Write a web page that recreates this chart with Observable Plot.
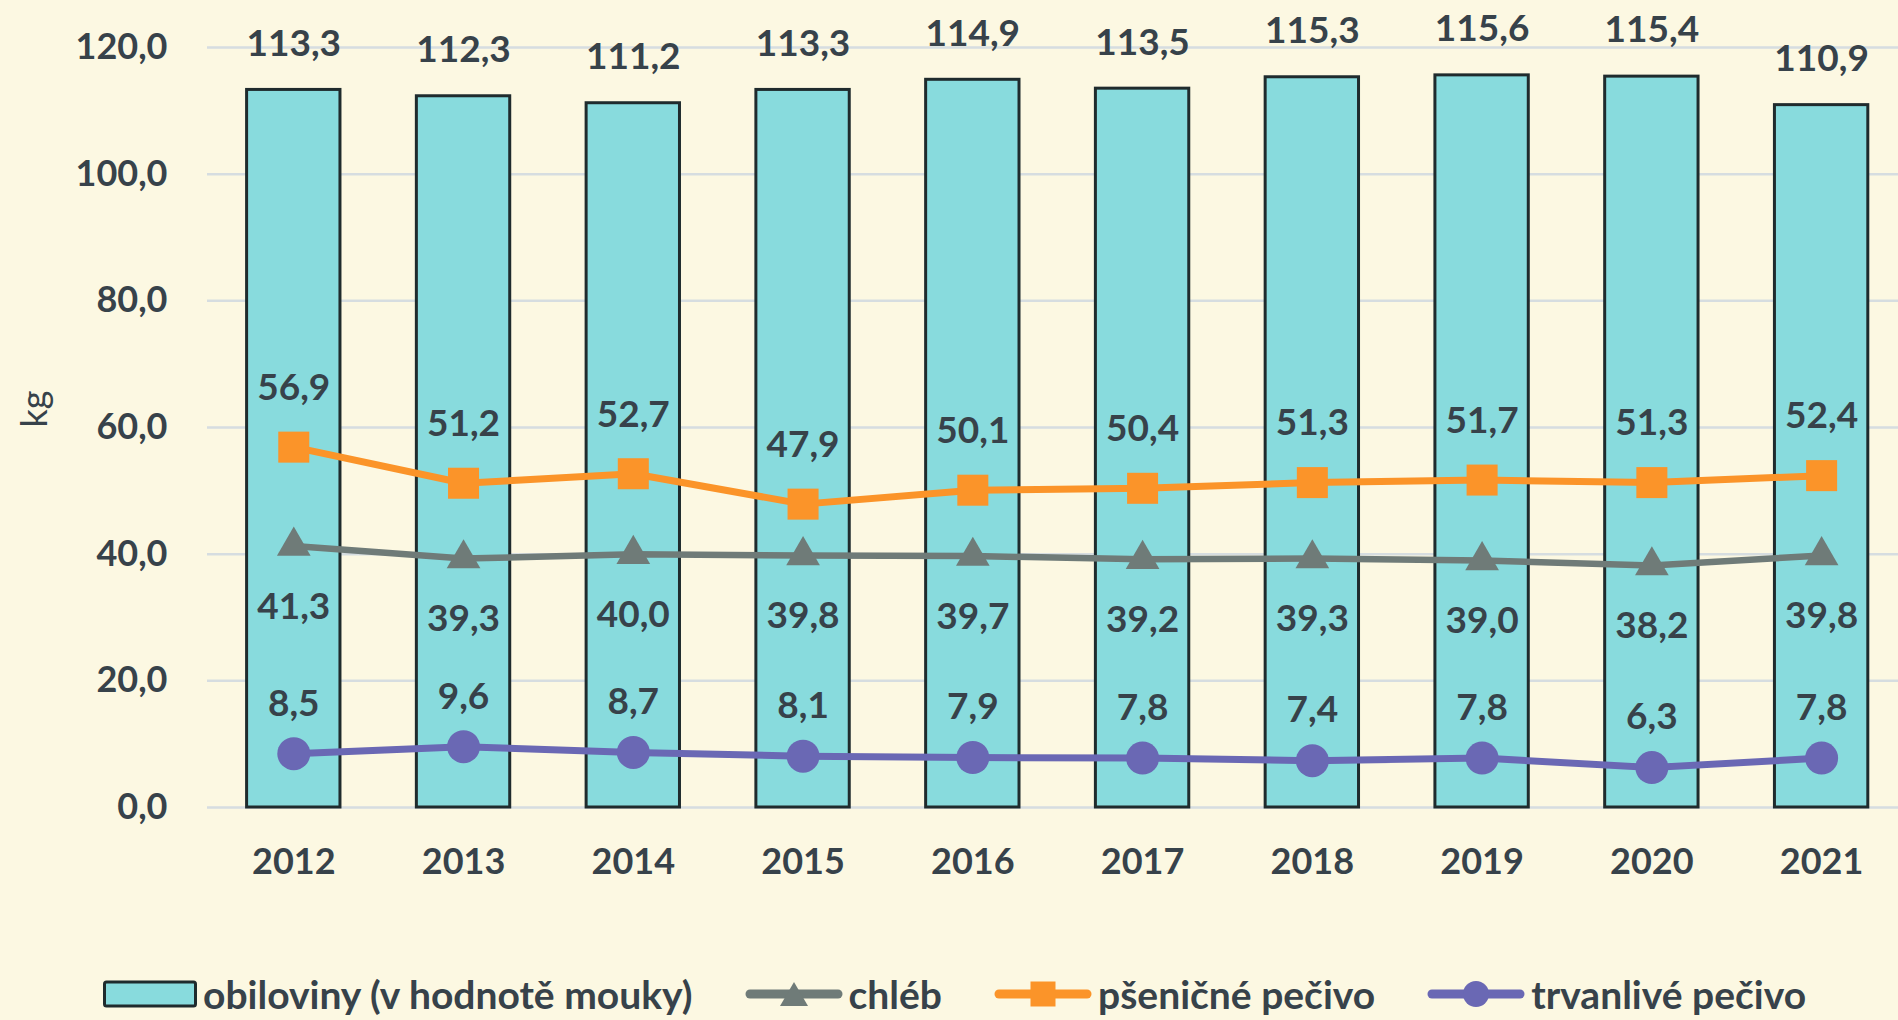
<!DOCTYPE html>
<html>
<head>
<meta charset="utf-8">
<script src="https://cdn.jsdelivr.net/npm/d3@7"></script>
<script src="https://cdn.jsdelivr.net/npm/@observablehq/plot@0.6"></script>
<style>
  html, body { margin: 0; padding: 0; background: #fcf8e2; }
  body { width: 1898px; height: 1020px; overflow: hidden; font-family: Lato, "Open Sans", sans-serif; position: relative; }
  #chart svg { display: block; }
  #legend { position: absolute; left: 0; top: 969px; display: flex; align-items: center; height: 50px; padding-left: 103px; color: #37424a; font-weight: bold; font-size: 39px; line-height: 46px; white-space: nowrap; }
  .item { display: flex; align-items: center; margin-right: 52px; }
  .item svg { margin-right: 6px; display: block; }
</style>
</head>
<body>
<div id="chart"></div>
<div id="legend"></div>
<script>
const years = ["2012","2013","2014","2015","2016","2017","2018","2019","2020","2021"];
const obiloviny = [113.3,112.3,111.2,113.3,114.9,113.5,115.3,115.6,115.4,110.9];
const chleb = [41.3,39.3,40.0,39.8,39.7,39.2,39.3,39.0,38.2,39.8];
const psenicne = [56.9,51.2,52.7,47.9,50.1,50.4,51.3,51.7,51.3,52.4];
const trvanlive = [8.5,9.6,8.7,8.1,7.9,7.8,7.4,7.8,6.3,7.8];
const yTicks = [0,20,40,60,80,100,120];
const seriesNames = ["obiloviny (v hodnotě mouky)", "chléb", "pšeničné pečivo", "trvanlivé pečivo"];

const colors = {bar: "#88dbdd", barStroke: "#1f2b2d", gray: "#6f7b78", orange: "#fb9429", purple: "#6a68b4", text: "#37424a", grid: "#d6dde0"};
const fmt = d => d.toFixed(1).replace(".", ",");

const rows = years.map((y, i) => ({year: y, obiloviny: obiloviny[i], chleb: chleb[i], psenicne: psenicne[i], trvanlive: trvanlive[i]}));

const W = 1898, H = 940;
const plot = Plot.plot({
  width: W, height: H,
  marginLeft: 207, marginRight: 0, marginTop: 47, marginBottom: H - 807,
  style: {background: "#fcf8e2", fontFamily: "Lato, 'Open Sans', sans-serif", color: colors.text},
  x: {domain: years, range: [208.4, 1906], paddingInner: 0.45, paddingOuter: 0.225, round: false, label: null},
  y: {domain: [0, 120], label: null},
  marks: [
    Plot.ruleY(yTicks, {stroke: colors.grid, strokeWidth: 2.5}),
    Plot.barY(rows, {x: "year", y: "obiloviny", fill: colors.bar, stroke: colors.barStroke, strokeWidth: 3}),
    Plot.line(rows, {x: "year", y: "chleb", stroke: colors.gray, strokeWidth: 6.5}),
    Plot.dot(rows, {x: "year", y: "chleb", symbol: "triangle", r: 12.5, fill: colors.gray}),
    Plot.line(rows, {x: "year", y: "psenicne", stroke: colors.orange, strokeWidth: 7}),
    Plot.dot(rows, {x: "year", y: "psenicne", symbol: "square", r: 17.5, fill: colors.orange}),
    Plot.line(rows, {x: "year", y: "trvanlive", stroke: colors.purple, strokeWidth: 7}),
    Plot.dot(rows, {x: "year", y: "trvanlive", r: 16.5, fill: colors.purple}),
    Plot.text(rows, {x: "year", y: "obiloviny", text: d => fmt(d.obiloviny), dy: -46, fontSize: 37, fontWeight: "bold", fill: colors.text}),
    Plot.text(rows, {x: "year", y: "psenicne", text: d => fmt(d.psenicne), dy: -59, fontSize: 37, fontWeight: "bold", fill: colors.text}),
    Plot.text(rows, {x: "year", y: "chleb", text: d => fmt(d.chleb), dy: 61, fontSize: 37, fontWeight: "bold", fill: colors.text}),
    Plot.text(rows, {x: "year", y: "trvanlive", text: d => fmt(d.trvanlive), dy: -50, fontSize: 37, fontWeight: "bold", fill: colors.text}),
    Plot.axisY(yTicks, {tickSize: 0, tickPadding: 40, tickFormat: fmt, fontSize: 36, fontWeight: "bold", fill: colors.text, label: null}),
    Plot.axisX({tickSize: 0, tickPadding: 41, fontSize: 36, fontWeight: "bold", fill: colors.text, label: null}),
    Plot.text(["kg"], {frameAnchor: "left", dx: -172, rotate: -90, fontSize: 36, fill: colors.text})
  ]
});
document.getElementById("chart").appendChild(plot);

// Legend
const legend = document.getElementById("legend");
function swatch(kind, color) {
  const ns = "http://www.w3.org/2000/svg";
  const s = document.createElementNS(ns, "svg");
  s.setAttribute("width", kind === "bar" ? 94 : 98);
  s.setAttribute("height", 34);
  if (kind === "bar") {
    s.innerHTML = `<rect x="1.5" y="5" width="91" height="24" fill="${colors.bar}" stroke="${colors.barStroke}" stroke-width="3" rx="2"/>`;
  } else {
    let marker = "";
    if (kind === "triangle") marker = `<path d="M49,5 L63,29 L35,29 Z" fill="${color}"/>`;
    if (kind === "square") marker = `<rect x="36.5" y="4.5" width="25" height="25" fill="${color}"/>`;
    if (kind === "circle") marker = `<circle cx="49" cy="17" r="13" fill="${color}"/>`;
    s.innerHTML = `<line x1="5" y1="17" x2="93" y2="17" stroke="${color}" stroke-width="9" stroke-linecap="round"/>` + marker;
  }
  return s;
}
const kinds = [["bar", colors.bar], ["triangle", colors.gray], ["square", colors.orange], ["circle", colors.purple]];
seriesNames.forEach((name, i) => {
  const it = document.createElement("div");
  it.className = "item";
  it.appendChild(swatch(kinds[i][0], kinds[i][1]));
  const t = document.createElement("span");
  t.textContent = name;
  it.appendChild(t);
  legend.appendChild(it);
});
</script>
</body>
</html>
